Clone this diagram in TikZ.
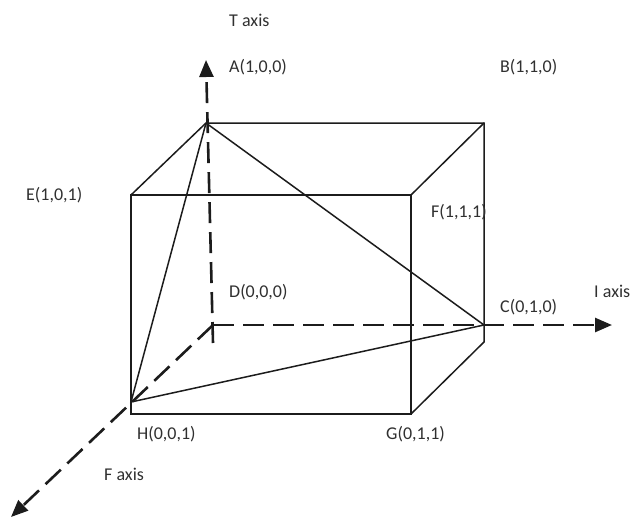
\documentclass[tikz,border=0pt]{standalone}
\usepackage{fontspec}
\setmainfont{Carlito}
\usetikzlibrary{arrows.meta}
\definecolor{ink}{HTML}{1C1C1C}
\definecolor{txt}{HTML}{303030}
\tikzset{
  edge/.style={draw=ink,line width=1.5pt},
  axisline/.style={draw=ink,line width=2.6pt,dash pattern=on 21pt off 9pt,-{Triangle[length=17pt,width=14pt]}},
  lbl/.style={anchor=base west,inner sep=0pt,text=txt,font=\fontsize{18}{20}\selectfont}
}
\begin{document}
\begin{tikzpicture}[x=1pt,y=-1pt]
\useasboundingbox (0,0) rectangle (630,517);
% vertices
\coordinate (A) at (206,123);
\coordinate (B) at (484,123);
\coordinate (E) at (131,195);
\coordinate (F) at (411,195);
\coordinate (G) at (411,414);
\coordinate (H) at (131,402);
\coordinate (Bb) at (484,342);
\coordinate (C) at (484,325);
\coordinate (O) at (213,325);
\coordinate (Obelow) at (213,343);
\coordinate (Ttip) at (206,60);
\coordinate (Itip) at (612,325);
\coordinate (Ftip) at (11,517);
% cube
\draw[edge] (E) rectangle (G);
\draw[edge] (E) -- (A) -- (B) -- (Bb) -- (G);
\draw[edge] (B) -- (F);
% triangle
\draw[edge] (A) -- (H) -- (C) -- (A);
% axes
\draw[axisline] (Obelow) -- (Ttip);
\draw[axisline] (O) -- (Itip);
\draw[axisline] (O) -- (Ftip);
% labels
\node[lbl] (tT) at (229,26) {T axis};
\node[lbl] (tA) at (229,72) {A(1,0,0)};
\node[lbl] (tB) at (500,72) {B(1,1,0)};
\node[lbl] (tE) at (26,200) {E(1,0,1)};
\node[lbl] (tF) at (431,217) {F(1,1,1)};
\node[lbl] (tD) at (229,297) {D(0,0,0)};
\node[lbl] (tC) at (500,312) {C(0,1,0)};
\node[lbl] (tI) at (594,297) {I axis};
\node[lbl] (tH) at (137,439) {H(0,0,1)};
\node[lbl] (tG) at (386,439) {G(0,1,1)};
\node[lbl] (tFa) at (104,480) {F axis};
\end{tikzpicture}
\end{document}
